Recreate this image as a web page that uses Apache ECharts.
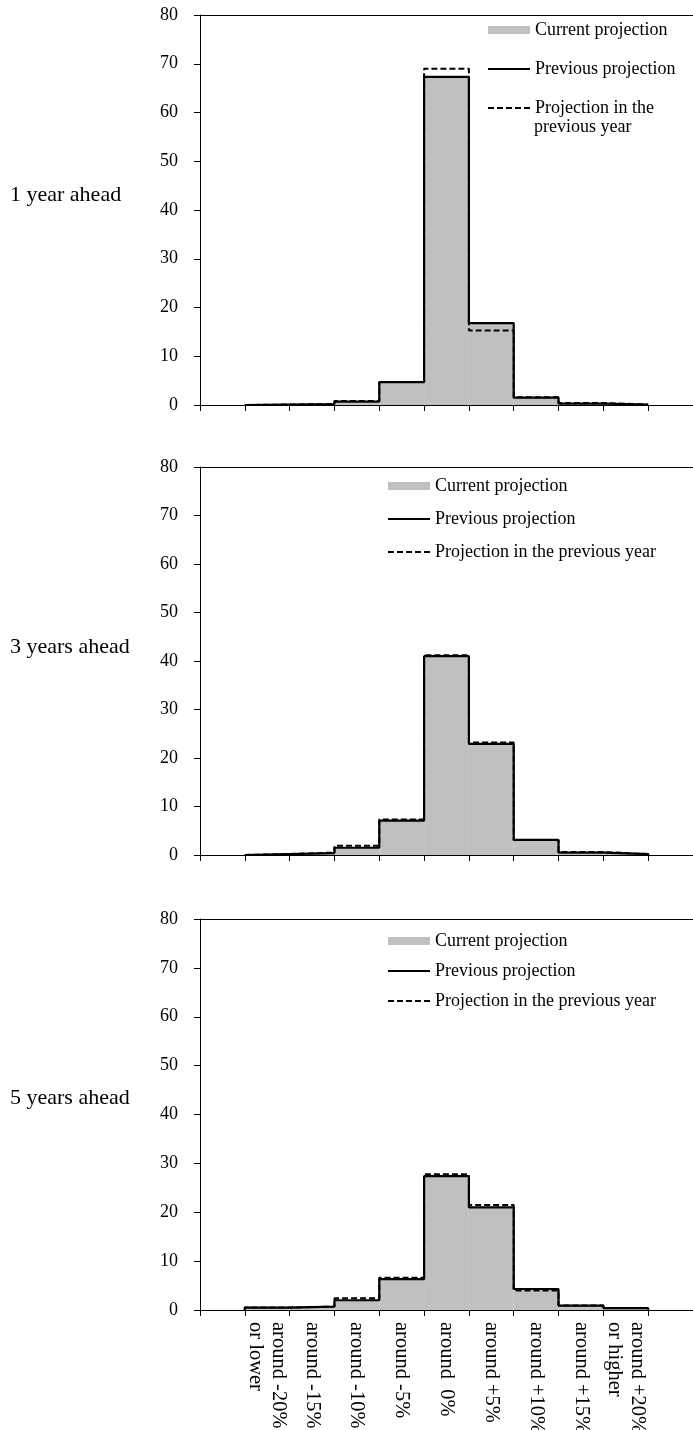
<!DOCTYPE html>
<html>
<head>
<meta charset="utf-8">
<script src="https://cdn.jsdelivr.net/npm/echarts@6/dist/echarts.min.js"></script>
<style>
html,body{margin:0;padding:0;background:#fff;}
#main{width:693px;height:1430px;}
</style>
</head>
<body>
<div id="main"></div>
<script>
// Categories (first and last slots are empty padding categories)
const categories = ['', 'around -20%\nor lower', 'around -15%', 'around -10%', 'around -5%', 'around  0%', 'around +5%', 'around +10%', 'around +15%', 'around +20%\nor higher', ''];
const rowLabels = ['1 year ahead', '3 years ahead', '5 years ahead'];
const yTicks = [0, 10, 20, 30, 40, 50, 60, 70, 80];

// 1 year ahead
const current1  = [0.1, 0.2, 0.7, 4.7, 67.3, 16.8, 1.5, 0.3, 0.1];
const previous1 = [0.1, 0.2, 0.7, 4.7, 67.3, 16.8, 1.5, 0.3, 0.1];
const prevYear1 = [0.1, 0.2, 0.8, 4.7, 69.0, 15.3, 1.6, 0.4, 0.1];
// 3 years ahead
const current2  = [0.2, 0.4, 1.5, 7.1, 41.0, 22.9, 3.1, 0.5, 0.2];
const previous2 = [0.2, 0.4, 1.5, 7.1, 41.0, 22.9, 3.1, 0.5, 0.2];
const prevYear2 = [0.2, 0.5, 1.9, 7.3, 41.2, 23.2, 3.1, 0.6, 0.2];
// 5 years ahead
const current3  = [0.5, 0.7, 2.0, 6.3, 27.3, 21.0, 4.3, 0.9, 0.4];
const previous3 = [0.5, 0.7, 2.0, 6.3, 27.4, 21.0, 4.3, 0.9, 0.4];
const prevYear3 = [0.5, 0.7, 2.4, 6.6, 27.8, 21.5, 4.0, 0.9, 0.4];

const FONT = 'Liberation Serif';
const panels = [
  {cur: current1, prev: previous1, py: prevYear1, top: 15, height: 390, legendLeft: 487, legendTop: 20, gap: 19, labelTop: 183, showX: false, twoLine: true},
  {cur: current2, prev: previous2, py: prevYear2, top: 467, height: 388, legendLeft: 387, legendTop: 476, gap: 13, labelTop: 635, showX: false, twoLine: false},
  {cur: current3, prev: previous3, py: prevYear3, top: 919, height: 391, legendLeft: 387, legendTop: 931, gap: 10, labelTop: 1086, showX: true, twoLine: false}
];

function stepPoints(vals) {
  // Outline of the histogram in category-index units (band k spans k-0.5..k+0.5)
  const pts = [[0.5, 0]];
  vals.forEach((v, k) => {
    pts.push([k + 0.5, v]);
    pts.push([k + 1.5, v]);
  });
  pts.push([vals.length + 0.5, 0]);
  return pts;
}

const option = {
  animation: false,
  backgroundColor: '#fff',
  textStyle: {fontFamily: FONT, color: '#000'},
  title: [], grid: [], xAxis: [], yAxis: [], series: [], legend: [], graphic: []
};

const hiddenSymbol = {color: 'rgba(0,0,0,0)', borderColor: 'rgba(0,0,0,0)', borderWidth: 0};

panels.forEach((p, i) => {
  option.title.push({
    text: rowLabels[i], left: 10, top: p.labelTop, padding: 0,
    textStyle: {fontFamily: FONT, fontWeight: 'normal', fontSize: 22, lineHeight: 24, color: '#000'}
  });
  option.grid.push({left: 200, right: 0, top: p.top, height: p.height, containLabel: false, outerBoundsMode: 'none'});
  option.xAxis.push({
    type: 'category', gridIndex: i, data: categories, boundaryGap: true,
    axisLine: {show: true, onZero: false, lineStyle: {color: '#000', width: 1}},
    axisTick: {show: true, length: 6, lineStyle: {color: '#000'}},
    axisLabel: {show: p.showX, interval: 0, rotate: -90, margin: 12, fontFamily: FONT, fontSize: 20.5, lineHeight: 23, color: '#000'},
    splitLine: {show: false}
  });
  option.xAxis.push({
    type: 'value', gridIndex: i, min: -0.5, max: 10.5, position: 'top',
    axisLine: {show: true, onZero: false, lineStyle: {color: '#000', width: 1}},
    axisTick: {show: false}, axisLabel: {show: false}, splitLine: {show: false}
  });
  option.yAxis.push({
    type: 'value', gridIndex: i, min: yTicks[0], max: yTicks[yTicks.length - 1], interval: 10,
    position: 'left',
    axisLine: {show: true, onZero: false, lineStyle: {color: '#000', width: 1}},
    axisTick: {show: true, length: 6, lineStyle: {color: '#000'}},
    axisLabel: {margin: 22, fontFamily: FONT, fontSize: 18, color: '#000'},
    splitLine: {show: false}
  });
  option.series.push({
    name: 'Current projection', type: 'bar', xAxisIndex: 2 * i, yAxisIndex: i,
    data: ['-'].concat(p.cur, ['-']), barCategoryGap: '0%', barGap: '-100%',
    itemStyle: {color: '#c0c0c0'}, z: 1
  });
  option.series.push({
    name: 'Previous projection', type: 'line', xAxisIndex: 2 * i + 1, yAxisIndex: i,
    data: stepPoints(p.prev), symbol: 'none', showSymbol: false,
    lineStyle: {color: '#000', width: 2.2, type: 'solid'}, itemStyle: {color: '#000'}, z: 3
  });
  option.series.push({
    name: 'Projection in the previous year', type: 'line', xAxisIndex: 2 * i + 1, yAxisIndex: i,
    data: stepPoints(p.py), symbol: 'none', showSymbol: false,
    lineStyle: {color: '#000', width: 2, type: [6, 3]}, itemStyle: {color: '#000'}, z: 4
  });
  const legendData = [
    {name: 'Current projection', icon: 'rect', itemStyle: {color: '#c0c0c0'}},
    {name: 'Previous projection', itemStyle: hiddenSymbol},
    {name: 'Projection in the previous year', itemStyle: hiddenSymbol}
  ];
  option.legend.push({
    orient: 'vertical', left: p.legendLeft, top: p.legendTop,
    itemWidth: 42, itemHeight: 8, itemGap: p.gap, padding: 0,
    selectedMode: false,
    data: legendData,
    formatter: p.twoLine
      ? function (n) { return n === 'Projection in the previous year' ? 'Projection in the' : n; }
      : '{name}',
    textStyle: {fontFamily: FONT, fontSize: 18, lineHeight: 20, color: '#000'}
  });
  if (p.twoLine) {
    option.graphic.push({
      type: 'text', left: p.legendLeft + 47, top: p.legendTop + 98,
      style: {text: 'previous year', font: '18px "Liberation Serif"', fill: '#000'}
    });
  }
});

const chart = echarts.init(document.getElementById('main'), null, {renderer: 'canvas'});
chart.setOption(option);
</script>
</body>
</html>
